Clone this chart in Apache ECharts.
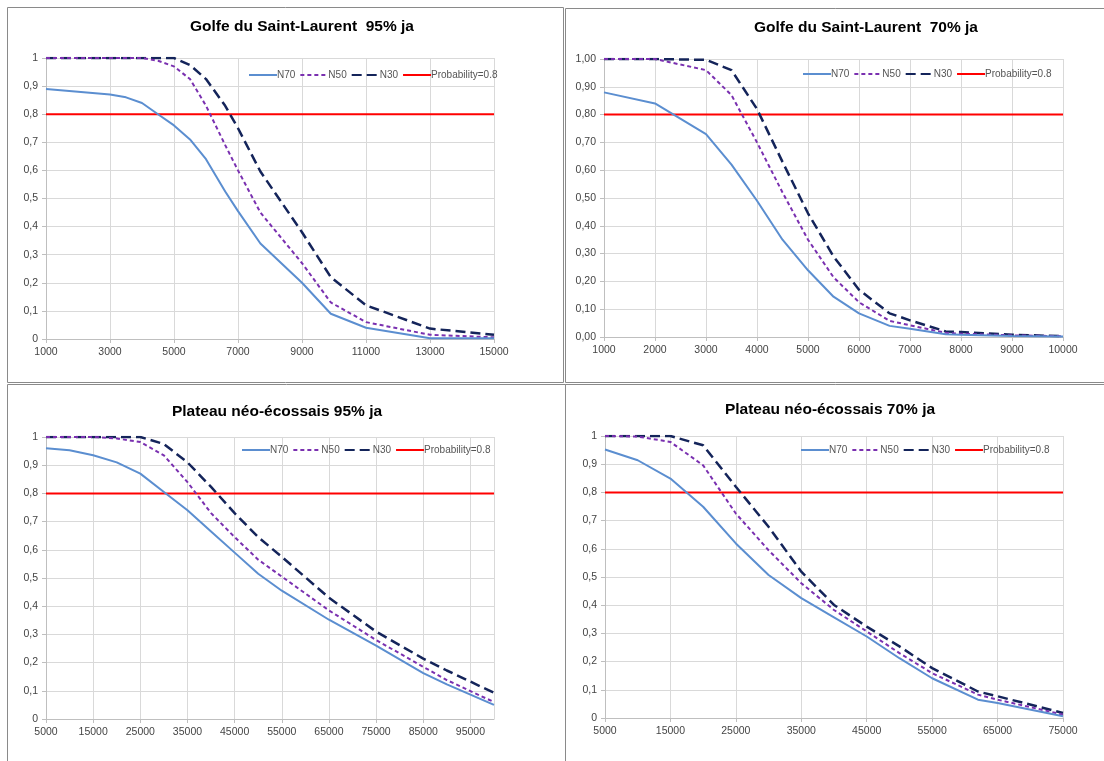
<!DOCTYPE html>
<html><head><meta charset="utf-8">
<script src="https://cdn.jsdelivr.net/npm/echarts@6/dist/echarts.min.js"></script>
<style>html,body{margin:0;padding:0;background:#fff}#c{width:1104px;height:761px}</style>
</head><body><div id="c"></div>
<script>
// ---- data ----
const titles = ["Golfe du Saint-Laurent  95% ja", "Golfe du Saint-Laurent  70% ja", "Plateau néo-écossais 95% ja", "Plateau néo-écossais 70% ja"];
const seriesNames = ["N70", "N50", "N30", "Probability=0.8"];
const threshold = 0.8;

const x1 = [1000, 3000, 3500, 4000, 4500, 5000, 5500, 6000, 6600, 7000, 7700, 9000, 9900, 11000, 13000, 15000];
const n70_1 = [0.89, 0.87, 0.86, 0.84, 0.80, 0.76, 0.71, 0.64, 0.525, 0.455, 0.34, 0.20, 0.09, 0.04, 0.003, 0.003];
const n50_1 = [1, 1, 1, 1, 0.99, 0.97, 0.925, 0.83, 0.69, 0.60, 0.45, 0.27, 0.13, 0.06, 0.015, 0.006];
const n30_1 = [1, 1, 1, 1, 1, 1, 0.975, 0.925, 0.83, 0.75, 0.596, 0.38, 0.22, 0.12, 0.037, 0.015];

const x2 = [1000, 2000, 3000, 3500, 4000, 4500, 5000, 5500, 6000, 6600, 7000, 7700, 8000, 9000, 10000];
const n70_2 = [0.88, 0.84, 0.73, 0.62, 0.49, 0.35, 0.24, 0.145, 0.085, 0.04, 0.03, 0.01, 0.008, 0.004, 0.002];
const n50_2 = [1.0, 1.0, 0.96, 0.87, 0.70, 0.52, 0.35, 0.215, 0.125, 0.058, 0.042, 0.015, 0.012, 0.006, 0.003];
const n30_2 = [1.0, 1.0, 0.997, 0.96, 0.82, 0.63, 0.445, 0.29, 0.17, 0.085, 0.06, 0.02, 0.018, 0.008, 0.003];

const x3 = [5000, 10000, 15000, 20000, 25000, 30000, 35000, 40000, 45000, 50000, 55000, 65000, 75000, 85000, 90000, 100000];
const n70_3 = [0.96, 0.953, 0.935, 0.91, 0.87, 0.805, 0.74, 0.665, 0.59, 0.515, 0.455, 0.352, 0.26, 0.163, 0.123, 0.05];
const n50_3 = [1.0, 1.0, 1.0, 0.995, 0.982, 0.935, 0.84, 0.73, 0.645, 0.565, 0.505, 0.385, 0.28, 0.185, 0.138, 0.06];
const n30_3 = [1.0, 1.0, 1.0, 1.0, 1.0, 0.975, 0.91, 0.823, 0.73, 0.645, 0.575, 0.43, 0.31, 0.214, 0.172, 0.093];

const x4 = [5000, 10000, 15000, 20000, 25000, 30000, 35000, 40000, 45000, 50000, 55000, 62000, 65000, 75000];
const n70_4 = [0.952, 0.914, 0.849, 0.749, 0.619, 0.507, 0.425, 0.357, 0.289, 0.212, 0.141, 0.065, 0.053, 0.006];
const n50_4 = [1.0, 0.998, 0.979, 0.896, 0.725, 0.595, 0.478, 0.383, 0.307, 0.23, 0.159, 0.083, 0.065, 0.012];
const n30_4 = [1.0, 1.0, 1.0, 0.967, 0.82, 0.678, 0.519, 0.401, 0.324, 0.254, 0.177, 0.094, 0.077, 0.018];

const xMin = [1000, 1000, 5000, 5000];
const xMax = [15000, 10000, 100000, 75000];
const xStep = [2000, 1000, 10000, 10000];
const yDecimals = [0, 2, 0, 0];

// ---- layout / style ----
const panels = [
  {x: x1, s: [n70_1, n50_1, n30_1]},
  {x: x2, s: [n70_2, n50_2, n30_2]},
  {x: x3, s: [n70_3, n50_3, n30_3]},
  {x: x4, s: [n70_4, n50_4, n30_4]}
];
const grids = [
  {left: 46, top: 58, width: 448, height: 281},
  {left: 604, top: 59, width: 459, height: 278},
  {left: 46, top: 437, width: 448, height: 282},
  {left: 605, top: 436, width: 458, height: 282}
];
const titlePos = [{x: 302, y: 19}, {x: 866, y: 20}, {x: 277, y: 404}, {x: 830, y: 402}];
const legendPos = [{x: 248, y: 70}, {x: 802, y: 69}, {x: 241, y: 445}, {x: 800, y: 445}];
const styles = [
  {color: '#5B8ED0', type: 'solid', width: 2},
  {color: '#7A30B0', type: [4, 3], width: 2},
  {color: '#14245A', type: [10, 5], width: 2.5},
  {color: '#FF0000', type: 'solid', width: 2}
];
const FONT = 'Liberation Sans';

const option = {
  animation: false,
  backgroundColor: '#fff',
  textStyle: {fontFamily: FONT},
  title: [], legend: [], grid: [], xAxis: [], yAxis: [], series: [],
  graphic: [
    {type: 'rect', shape: {x: 7.5, y: 7.5, width: 556, height: 375}, style: {fill: 'none', stroke: '#8a8a8a', lineWidth: 1}},
    {type: 'rect', shape: {x: 565.5, y: 8.5, width: 560, height: 374}, style: {fill: 'none', stroke: '#8a8a8a', lineWidth: 1}},
    {type: 'rect', shape: {x: 7.5, y: 384.5, width: 558, height: 400}, style: {fill: 'none', stroke: '#8a8a8a', lineWidth: 1}},
    {type: 'rect', shape: {x: 565.5, y: 384.5, width: 560, height: 400}, style: {fill: 'none', stroke: '#8a8a8a', lineWidth: 1}}
  ]
};

panels.forEach((p, i) => {
  option.grid.push(Object.assign({containLabel: false}, grids[i]));
  option.title.push({
    text: titles[i], left: titlePos[i].x, top: titlePos[i].y, textAlign: 'center', padding: 0,
    textStyle: {fontFamily: FONT, fontWeight: 'bold', fontSize: 15.5, color: '#000'}
  });
  option.legend.push({
    data: seriesNames.map(n => ({name: n})),
    left: legendPos[i].x, top: legendPos[i].y, padding: 0, itemWidth: 28, itemHeight: 10, itemGap: 4,
    itemStyle: {opacity: 0},
    textStyle: {fontFamily: FONT, fontSize: 10, color: '#555', padding: [0, 0, 0, -5]},
    selectedMode: false
  });
  option.xAxis.push({
    type: 'value', gridIndex: i, min: xMin[i], max: xMax[i], interval: xStep[i],
    axisLine: {show: true, lineStyle: {color: '#BFBFBF'}},
    axisTick: {show: true, length: 4, lineStyle: {color: '#BFBFBF'}},
    axisLabel: {color: '#444', fontSize: 10.5, fontFamily: FONT, margin: 8, showMaxLabel: i !== 2,
      formatter: v => String(Math.round(v))},
    splitLine: {show: true, lineStyle: {color: '#D9D9D9'}}
  });
  option.yAxis.push({
    type: 'value', gridIndex: i, min: 0, max: 1, interval: 0.1,
    axisLine: {show: true, lineStyle: {color: '#BFBFBF'}},
    axisTick: {show: true, length: 4, lineStyle: {color: '#BFBFBF'}},
    axisLabel: {
      color: '#444', fontSize: 10.5, fontFamily: FONT, margin: 8,
      formatter: v => {
        const r = Math.round(v * 100) / 100;
        if (yDecimals[i] === 2) return r.toFixed(2).replace('.', ',');
        return String(Math.round(r * 10) / 10).replace('.', ',');
      }
    },
    splitLine: {show: true, lineStyle: {color: '#D9D9D9'}}
  });
  p.s.forEach((vals, k) => {
    option.series.push({
      name: seriesNames[k], type: 'line', xAxisIndex: i, yAxisIndex: i,
      data: p.x.map((xv, j) => [xv, vals[j]]),
      symbol: 'none', smooth: false, z: 5 - k,
      lineStyle: {color: styles[k].color, type: styles[k].type, width: styles[k].width},
      itemStyle: {color: styles[k].color, opacity: 0}
    });
  });
  option.series.push({
    name: seriesNames[3], type: 'line', xAxisIndex: i, yAxisIndex: i,
    data: [[xMin[i], threshold], [xMax[i], threshold]],
    symbol: 'none', z: 1,
    lineStyle: {color: styles[3].color, type: 'solid', width: styles[3].width},
    itemStyle: {color: styles[3].color, opacity: 0}
  });
});

const chart = echarts.init(document.getElementById('c'), null, {renderer: 'canvas'});
chart.setOption(option);
</script>
</body></html>
